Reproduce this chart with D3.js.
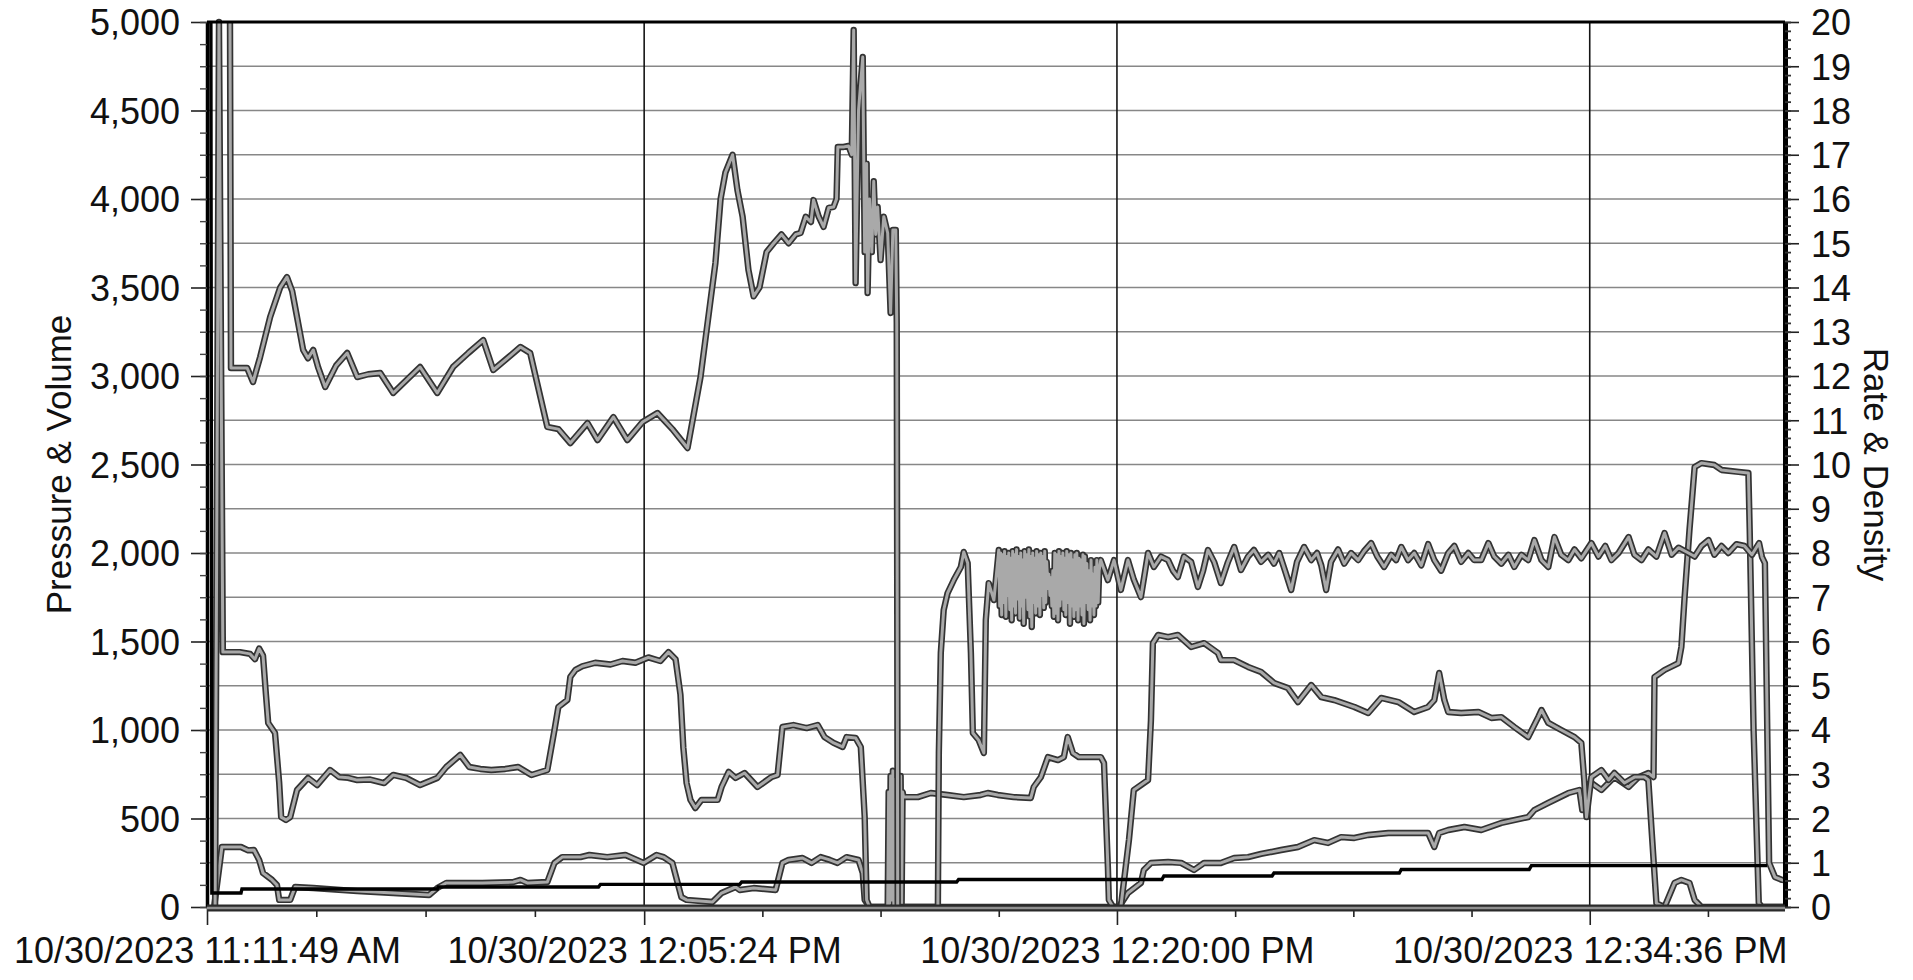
<!DOCTYPE html>
<html><head><meta charset="utf-8">
<script src="https://cdn.jsdelivr.net/npm/d3@7"></script>
<style>
html,body{margin:0;padding:0;background:#fff;}
svg{display:block;font-family:"Liberation Sans",Arial,sans-serif;}
</style></head><body>
<svg id="chart" width="1913" height="980"></svg>
<script>
// ---- axis ticks / labels ----
const xTickMinutes = [0, 13.5, 28.1, 42.7];
const xTickLabels = ["10/30/2023 11:11:49 AM", "10/30/2023 12:05:24 PM", "10/30/2023 12:20:00 PM", "10/30/2023 12:34:36 PM"];
const leftTicks = [0, 500, 1000, 1500, 2000, 2500, 3000, 3500, 4000, 4500, 5000];
const rightTicks = [0,1,2,3,4,5,6,7,8,9,10,11,12,13,14,15,16,17,18,19,20];
const leftTitle = "Pressure & Volume";
const rightTitle = "Rate & Density";

// ---- series: [minutes on axis, value in left-axis units] ----
const pressureTrace = [
[0.71,5000],[0.74,3045],[1.24,3045],[1.42,2966],[1.64,3107],[1.95,3333],[2.26,3500],[2.47,3559],[2.63,3480],[2.78,3333],[2.97,3147],[3.12,3100],[3.28,3147],[3.43,3050],[3.65,2938],[3.99,3060],[4.33,3130],[4.64,2994],[4.98,3010],[5.35,3017],[5.75,2904],[6.18,2980],[6.58,3051],[7.11,2904],[7.60,3051],[8.07,3130],[8.53,3203],[8.84,3034],[9.27,3100],[9.68,3164],[9.98,3130],[10.51,2712],[10.85,2700],[11.22,2621],[11.75,2734],[12.06,2638],[12.55,2768],[12.98,2638],[13.45,2740],[13.91,2791],[14.37,2700],[14.84,2593],[15.24,2994],[15.55,3429],[15.70,3638],[15.86,4000],[16.01,4150],[16.23,4250],[16.38,4050],[16.54,3900],[16.72,3600],[16.88,3450],[17.06,3500],[17.28,3700],[17.50,3750],[17.74,3800],[17.96,3750],[18.18,3800],[18.33,3808],[18.49,3900],[18.65,3870],[18.73,3994],[18.89,3900],[19.04,3842],[19.20,3950],[19.35,3955],[19.44,4000],[19.48,4294],[19.66,4294],[19.81,4300],[19.91,4250],[19.97,4955],[20.03,3525],[20.12,4500],[20.25,4802],[20.31,3700],[20.37,4200],[20.40,3469],[20.46,4000],[20.53,3700],[20.59,4100],[20.65,3800],[20.71,3955],[20.80,3655],[20.90,3900],[21.02,3808],[21.11,3356],[21.18,3825],[21.27,3825],[21.30,3300],[21.33,0],[22.57,0],[22.60,870],[22.66,1435],[22.75,1678],[22.87,1774],[23.06,1847],[23.28,1921],[23.37,2006],[23.49,1943],[23.59,1435],[23.65,983],[23.83,943],[23.99,870],[24.05,1621],[24.14,1830],[24.30,1734],[24.45,2017],
[24.48,1700],[24.51,2000],[24.54,1650],[24.57,1990],[24.60,1720],[24.63,2010],[24.67,1640],[24.70,1980],[24.73,1760],[24.76,2000],
[24.79,1680],[24.82,1970],[24.85,1620],[24.88,2010],[24.91,1700],[24.94,1990],[24.97,1660],[25.00,2020],[25.04,1740],[25.07,1980],
[25.10,1630],[25.13,2000],[25.16,1700],[25.19,1960],[25.22,1600],[25.25,2010],[25.28,1750],[25.31,1990],[25.35,1680],[25.38,2020],
[25.41,1640],[25.44,1980],[25.47,1582],[25.50,2000],[25.53,1720],[25.56,1970],[25.59,1660],[25.62,2010],[25.66,1700],[25.69,1990],
[25.72,1650],[25.75,2000],[25.78,1760],[25.81,1980],[25.84,1690],[25.87,2010],[25.90,1720],[25.93,1950],[25.97,1800],[26.00,1880],
[26.03,1760],[26.06,1860],[26.09,1700],[26.12,1900],[26.15,1640],[26.18,2000],[26.21,1660],[26.24,1990],[26.28,1620],[26.31,2010],
[26.34,1700],[26.37,1980],[26.40,1740],[26.43,2000],[26.46,1680],[26.49,1970],[26.52,1650],[26.55,2010],[26.59,1720],[26.62,1990],
[26.65,1600],[26.68,2000],[26.71,1700],[26.74,1960],[26.77,1640],[26.80,1990],[26.83,1680],[26.86,2000],[26.90,1620],[26.93,1970],
[26.96,1700],[26.99,1960],[27.02,1650],[27.05,1990],[27.08,1600],[27.11,1980],[27.14,1720],[27.17,1940],[27.21,1680],[27.24,1900],
[27.27,1620],[27.30,1960],[27.33,1700],[27.36,1880],[27.39,1650],[27.42,1920],[27.45,1700],[27.48,1960],[27.52,1720],[27.55,1900],
[27.60,1960],[27.82,1847],[28.01,1960],[28.22,1791],[28.44,1960],[28.62,1850],[28.84,1751],[29.06,2000],[29.24,1921],[29.46,1980],[29.68,1960],[29.83,1900],[29.98,1864],[30.17,1980],[30.39,1950],[30.60,1808],[30.76,1900],[30.91,2017],[31.10,1950],[31.31,1830],[31.53,1950],[31.72,2034],[31.93,1904],[32.15,1980],[32.33,2017],[32.55,1950],[32.77,1990],[32.95,1940],[33.11,2000],[33.29,1900],[33.48,1791],[33.66,1950],[33.88,2034],[34.10,1960],[34.28,2000],[34.41,1930],[34.56,1791],[34.71,1950],[34.93,2020],[35.12,1940],[35.33,2000],[35.55,1960],[35.73,2010],[35.95,2056],[36.14,1980],[36.35,1921],[36.57,1990],[36.72,1960],[36.88,2034],[37.09,1960],[37.28,2000],[37.50,1930],[37.71,2050],[37.90,1960],[38.11,1900],[38.33,2000],[38.52,2040],[38.73,1950],[38.95,2000],[39.13,1960],[39.35,1960],[39.57,2056],[39.75,1980],[39.97,1940],[40.19,1990],[40.37,1921],[40.59,1990],[40.80,1960],[40.99,2073],[41.21,1960],[41.42,1921],[41.61,2090],[41.82,1990],[42.04,1960],[42.23,2020],[42.44,1970],[42.75,2056],[42.97,1980],[43.18,2040],[43.37,1960],[43.59,2000],[43.90,2090],[44.08,1990],[44.30,1960],[44.51,2020],[44.76,1980],[45.01,2113],[45.23,1990],[45.44,2030],[45.75,2000],[45.94,1980],[46.15,2040],[46.37,2073],[46.55,1990],[46.77,2040],[46.98,2000],[47.23,2050],[47.48,2040],[47.71,1990],[47.93,2056],[48.02,1977],[48.11,1943],[48.24,249],[48.42,169],[48.64,153],[48.76,150]
];

const traceB = [
[0.25,0],[0.37,5000],[0.49,1440],[1.02,1440],[1.33,1430],[1.48,1400],[1.61,1460],[1.73,1420],[1.82,1200],[1.89,1040],[2.10,983],[2.23,700],[2.29,508],[2.44,492],[2.57,508],[2.78,661],[3.12,729],[3.40,689],[3.80,774],[4.08,734],[4.36,730],[4.64,717],[5.04,720],[5.47,700],[5.75,746],[6.15,729],[6.58,689],[7.11,729],[7.39,791],[7.82,859],[8.10,791],[8.44,780],[8.78,774],[9.21,780],[9.61,791],[10.02,746],[10.51,774],[10.73,1000],[10.85,1130],[11.13,1170],[11.22,1300],[11.38,1340],[11.59,1360],[11.99,1380],[12.46,1370],[12.83,1390],[13.23,1380],[13.63,1410],[14.00,1390],[14.25,1440],[14.47,1400],[14.62,1200],[14.71,900],[14.81,700],[14.93,605],[15.08,559],[15.27,605],[15.77,605],[15.89,678],[16.11,763],[16.32,729],[16.60,757],[17.00,678],[17.43,734],[17.62,746],[17.77,1017],[18.11,1028],[18.52,1011],[18.86,1028],[19.07,960],[19.35,927],[19.63,904],[19.75,960],[20.03,955],[20.19,904],[20.31,508],[20.37,40],[20.46,0],[20.99,0],
[21.02,0],[21.05,650],[21.08,20],[21.11,740],[21.14,40],[21.18,770],[21.21,0],[21.24,720],[21.27,30],[21.30,760],[21.33,0],[21.36,700],[21.39,20],[21.42,740],[21.45,0],[21.48,650],[21.51,621],
[21.95,621],[22.35,644],[22.87,633],[23.37,621],[23.89,633],[24.11,644],[24.42,633],[24.91,621],[25.44,616],[25.53,678],[25.75,734],[25.97,847],[26.28,830],[26.46,847],[26.58,960],[26.74,870],[26.92,847],[27.30,847],[27.60,847],[27.70,813],[27.82,226],[27.85,40],[27.98,0],[28.22,0],[28.47,378],[28.62,661],[28.84,689],[29.06,717],[29.15,1056],[29.21,1491],[29.37,1537],[29.68,1525],[29.98,1537],[30.39,1469],[30.79,1491],[31.22,1435],[31.31,1395],[31.72,1395],[32.15,1356],[32.55,1328],[32.95,1266],[33.38,1237],[33.69,1158],[34.10,1254],[34.41,1186],[34.81,1169],[35.43,1130],[35.86,1096],[36.26,1181],[36.79,1158],[37.28,1102],[37.71,1130],[37.90,1169],[38.05,1322],[38.21,1169],[38.33,1102],[38.73,1096],[39.26,1102],[39.66,1068],[39.97,1073],[40.37,1017],[40.80,960],[41.11,1073],[41.21,1113],[41.42,1040],[41.82,1000],[42.23,960],[42.44,927],[42.53,718],[42.60,508],[42.75,734],[43.06,774],[43.28,718],[43.46,757],[43.77,701],[44.08,734],[44.39,734],[44.51,718],[44.61,435],[44.76,20],[45.01,0],[45.32,136],[45.53,153],[45.78,136],[45.94,40],[46.15,0],[48.69,0]
];

const traceC = [
[0.22,0],[0.46,339],[1.05,339],[1.27,320],[1.45,322],[1.61,266],[1.73,192],[2.01,153],[2.16,124],[2.23,40],[2.57,40],[2.72,113],[3.28,107],[4.64,90],[5.75,79],[6.86,68],[7.11,107],[7.39,136],[8.50,136],[9.46,141],[9.68,153],[9.89,136],[10.51,141],[10.73,249],[10.97,282],[11.53,282],[11.81,294],[12.36,282],[12.92,294],[13.48,249],[13.88,294],[14.10,282],[14.37,249],[14.65,56],[14.81,40],[15.61,28],[15.89,79],[16.32,113],[16.45,96],[16.88,107],[17.56,96],[17.77,249],[17.96,266],[18.39,277],[18.67,249],[18.95,282],[19.23,266],[19.47,249],[19.75,282],[20.12,266],[20.25,192],[20.31,40],[20.46,0],[28.16,0],[28.44,79],[28.84,136],[28.93,209],[29.15,249],[29.68,254],[30.08,249],[30.48,209],[30.79,249],[31.31,249],[31.72,277],[32.15,282],[32.55,300],[33.17,322],[33.69,339],[34.19,378],[34.62,362],[35.02,395],[35.43,390],[35.86,407],[36.48,418],[37.09,418],[37.71,418],[37.90,339],[38.05,418],[38.33,435],[38.83,452],[39.35,435],[39.97,475],[40.80,508],[40.99,548],[41.42,588],[42.04,644],[42.38,661],[42.47,548],[42.60,690],[42.75,701],[43.06,661],[43.46,734],[43.90,678],[44.21,734],[44.51,757],[44.67,734],[44.70,1299],[45.01,1339],[45.44,1378],[45.53,1469],[45.63,1751],[45.78,2130],[45.94,2486],[46.15,2508],[46.55,2497],[46.77,2469],[47.30,2458],[47.60,2452],[47.64,2130],[47.76,1000],[47.92,23],[48.02,0],[48.69,0]
];

const volumeSteps = [
[0.12,5000],[0.15,79],[1.05,79],[1.08,102],[7.11,102],[7.14,113],[12.09,113],[12.15,128],[16.45,128],[16.51,141],[23.15,141],[23.21,155],[29.49,155],[29.55,175],[32.89,175],[32.95,192],[36.82,192],[36.88,212],[40.83,212],[40.90,234],[48.18,234]
];

// ---- layout ----
const plot = {left: 207, right: 1785, top: 22, bottom: 907};
const xMax = 48.73;
const x = d3.scaleLinear().domain([0, xMax]).range([plot.left, plot.right]);
const y = d3.scaleLinear().domain([0, 5000]).range([plot.bottom, plot.top]);
const y2 = d3.scaleLinear().domain([0, 20]).range([plot.bottom, plot.top]);

const svg = d3.select('#chart');
const FS = 36;

// horizontal gridlines (every right-axis unit)
svg.append('g').selectAll('line').data(rightTicks.filter(d => d > 0 && d < 20)).join('line')
  .attr('x1', plot.left).attr('x2', plot.right)
  .attr('y1', d => y2(d)).attr('y2', d => y2(d))
  .attr('stroke', '#878787').attr('stroke-width', 1.7);

// vertical gridlines at major time ticks
svg.append('g').selectAll('line').data(xTickMinutes.slice(1)).join('line')
  .attr('x1', d => x(d)).attr('x2', d => x(d))
  .attr('y1', plot.top).attr('y2', plot.bottom)
  .attr('stroke', '#151515').attr('stroke-width', 1.6);

// series
const line = d3.line().x(d => x(d[0])).y(d => y(d[1]));
[traceC, traceB, pressureTrace].forEach(s => {
  svg.append('path').attr('d', line(s)).attr('fill', 'none')
    .attr('stroke', '#333').attr('stroke-width', 6.4).attr('stroke-linejoin', 'round');
  svg.append('path').attr('d', line(s)).attr('fill', 'none')
    .attr('stroke', '#a9a9a9').attr('stroke-width', 3).attr('stroke-linejoin', 'round');
});
svg.append('path').attr('d', line(volumeSteps)).attr('fill', 'none')
  .attr('stroke', '#000').attr('stroke-width', 3.4);

// ---- axes ----
function styleAxis(g) {
  g.selectAll('text').attr('font-size', FS).attr('fill', '#111')
    .attr('font-family', '"Liberation Sans", Arial, sans-serif');
  g.selectAll('.tick line').attr('stroke', '#222').attr('stroke-width', 1.6);
}

// left axis
const gL = svg.append('g').attr('transform', `translate(${plot.left},0)`)
  .call(d3.axisLeft(y).tickValues(leftTicks).tickFormat(d3.format(',')).tickSize(16).tickPadding(11).tickSizeOuter(0));
styleAxis(gL);
gL.select('.domain').attr('stroke', '#000').attr('stroke-width', 3.5);
gL.selectAll('text').attr('dy', '0.36em');
const gLm = svg.append('g').attr('transform', `translate(${plot.left},0)`)
  .call(d3.axisLeft(y).tickValues(d3.range(0, 5001, 125)).tickFormat('').tickSize(7).tickSizeOuter(0));
gLm.select('.domain').remove();
gLm.selectAll('.tick line').attr('stroke', '#444').attr('stroke-width', 1.4);

// right axis
const gR = svg.append('g').attr('transform', `translate(${plot.right},0)`)
  .call(d3.axisRight(y2).tickValues(rightTicks).tickSize(14).tickPadding(12).tickSizeOuter(0));
styleAxis(gR);
gR.select('.domain').attr('stroke', '#000').attr('stroke-width', 5);
gR.selectAll('text').attr('dy', '0.36em');
const gRm = svg.append('g').attr('transform', `translate(${plot.right},0)`)
  .call(d3.axisRight(y2).tickValues(d3.range(0, 20.001, 0.2)).tickFormat('').tickSize(6).tickSizeOuter(0));
gRm.select('.domain').remove();
gRm.selectAll('.tick line').attr('stroke', '#333').attr('stroke-width', 1.8);

// bottom axis
const gB = svg.append('g').attr('transform', `translate(0,${plot.bottom})`)
  .call(d3.axisBottom(x).tickValues(xTickMinutes).tickFormat((d, i) => xTickLabels[i]).tickSize(18).tickPadding(12).tickSizeOuter(0));
styleAxis(gB);
gB.select('.domain').remove();
const minorX = [];
xTickMinutes.forEach((t, i) => {
  const next = xTickMinutes[i + 1];
  const step = next !== undefined ? (next - t) / 4 : (t - xTickMinutes[i - 1]) / 4;
  const end = next !== undefined ? next : xMax;
  for (let k = 1; t + k * step < end - 0.01; k++) minorX.push(t + k * step);
});
const gBm = svg.append('g').attr('transform', `translate(0,${plot.bottom})`)
  .call(d3.axisBottom(x).tickValues(minorX).tickFormat('').tickSize(10).tickSizeOuter(0));
gBm.select('.domain').remove();
gBm.selectAll('.tick line').attr('stroke', '#222').attr('stroke-width', 1.6);

// bottom band (baseline) and top frame
svg.append('line').attr('x1', plot.left).attr('x2', plot.right)
  .attr('y1', plot.bottom + 1).attr('y2', plot.bottom + 1)
  .attr('stroke', '#2a2a2a').attr('stroke-width', 7);
svg.append('line').attr('x1', plot.left).attr('x2', plot.right)
  .attr('y1', plot.bottom + 1).attr('y2', plot.bottom + 1)
  .attr('stroke', '#8f8f8f').attr('stroke-width', 2.5);
svg.append('line').attr('x1', plot.left).attr('x2', plot.right)
  .attr('y1', plot.top).attr('y2', plot.top)
  .attr('stroke', '#000').attr('stroke-width', 3);

// titles
svg.append('text').attr('transform', `translate(71,${(plot.top + plot.bottom) / 2}) rotate(-90)`)
  .attr('text-anchor', 'middle').attr('font-size', 35).attr('fill', '#111').text(leftTitle);
svg.append('text').attr('transform', `translate(1864,${(plot.top + plot.bottom) / 2}) rotate(90)`)
  .attr('text-anchor', 'middle').attr('font-size', 35).attr('fill', '#111').text(rightTitle);
</script>
</body></html>
